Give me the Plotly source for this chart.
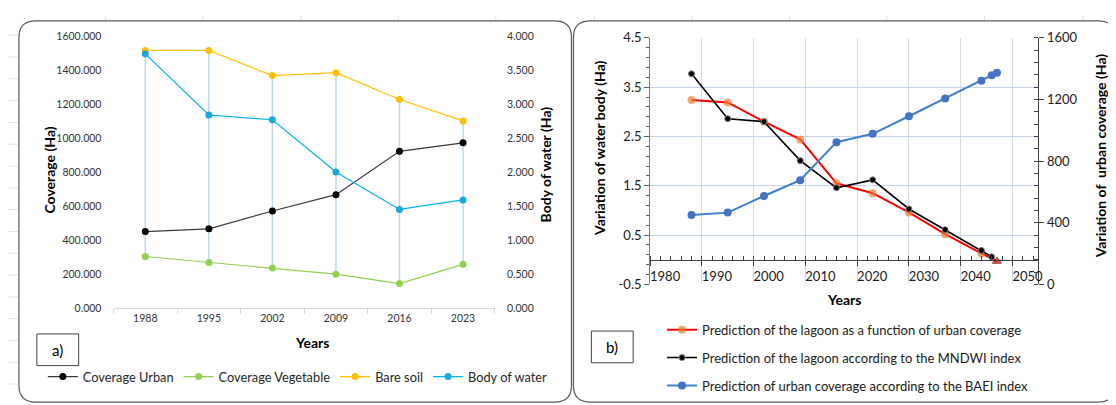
import plotly.graph_objects as go

W, H = 1116, 405

# ---------------- Panel a data ----------------
years_a = ["1988", "1995", "2002", "2009", "2016", "2023"]
coverage_urban = [450, 466, 571, 667, 922, 972]
coverage_vegetable = [303, 268, 236, 199, 144, 257]
bare_soil = [1516, 1516, 1368, 1385, 1227, 1101]
body_of_water = [3.74, 2.84, 2.77, 2.00, 1.45, 1.59]

# ---------------- Panel b data ----------------
years_lagoon_urban = [1988, 1995, 2002, 2009, 2016, 2023, 2030, 2037, 2044, 2047]
lagoon_urban = [3.24, 3.19, 2.80, 2.44, 1.55, 1.35, 0.96, 0.52, 0.13, -0.03]
years_mndwi = [1988, 1995, 2002, 2009, 2016, 2023, 2030, 2037, 2044, 2046]
lagoon_mndwi = [3.77, 2.86, 2.80, 2.01, 1.46, 1.62, 1.03, 0.61, 0.19, 0.06]
years_baei = [1988, 1995, 2002, 2009, 2016, 2023, 2030, 2037, 2044, 2046, 2047]
urban_baei = [450, 466, 574, 676, 923, 977, 1091, 1207, 1322, 1357, 1374]

left_b_ticks = [-0.5, 0.5, 1.5, 2.5, 3.5, 4.5]
left_b_labels = ["-0.5", "0.5", "1.5", "2.5", "3.5", "4.5"]

FONT = "Lato, 'Open Sans', sans-serif"


def fx(p):
    return p / W


def fy(p):
    return 1 - p / H


fig = go.Figure()

# high-low lines (panel a) computed from primary-axis series
hl_x, hl_y = [], []
for i, yr in enumerate(years_a):
    vals = [coverage_urban[i], coverage_vegetable[i], bare_soil[i]]
    hl_x += [yr, yr, None]
    hl_y += [max(vals), min(vals), None]
fig.add_trace(go.Scatter(x=hl_x, y=hl_y, mode="lines", line=dict(color="#BDD7EE", width=1.5),
                         showlegend=False, hoverinfo="skip", xaxis="x", yaxis="y"))

fig.add_trace(go.Scatter(x=years_a, y=coverage_urban, name="Coverage Urban", mode="lines+markers",
                         line=dict(color="#3A3A3A", width=1.2), marker=dict(color="#000000", size=7),
                         xaxis="x", yaxis="y", legend="legend"))
fig.add_trace(go.Scatter(x=years_a, y=coverage_vegetable, name="Coverage Vegetable", mode="lines+markers",
                         line=dict(color="#92D050", width=1.2), marker=dict(color="#92D050", size=7),
                         xaxis="x", yaxis="y", legend="legend"))
fig.add_trace(go.Scatter(x=years_a, y=bare_soil, name="Bare soil", mode="lines+markers",
                         line=dict(color="#FFC000", width=1.2), marker=dict(color="#FFC000", size=7),
                         xaxis="x", yaxis="y", legend="legend"))
fig.add_trace(go.Scatter(x=years_a, y=body_of_water, name="Body of water", mode="lines+markers",
                         line=dict(color="#00B0F0", width=1.2), marker=dict(color="#1AA7DE", size=7),
                         xaxis="x", yaxis="y2", legend="legend"))

# Panel b traces
n_lu = len(years_lagoon_urban)
fig.add_trace(go.Scatter(x=years_lagoon_urban, y=lagoon_urban,
                         name="Prediction of the lagoon as a function of urban coverage",
                         mode="lines+markers", line=dict(color="#FF0000", width=2),
                         marker=dict(color=["#ED7D31"] * (n_lu - 1) + ["#FF0000"],
                                     symbol=["circle"] * (n_lu - 1) + ["triangle-up"],
                                     size=[8] * (n_lu - 1) + [8],
                                     line=dict(color=["rgba(0,0,0,0)"] * (n_lu - 1) + ["#5a0000"], width=1)),
                         xaxis="x2", yaxis="y3", legend="legend2", legendgroup="g1"))
fig.add_trace(go.Scatter(x=years_mndwi, y=lagoon_mndwi,
                         name="Prediction of the lagoon according to the MNDWI index",
                         mode="lines+markers", line=dict(color="#000000", width=1.6),
                         marker=dict(color="#000000", size=6, line=dict(color="#7F7F7F", width=1)),
                         xaxis="x2", yaxis="y3", legend="legend2", legendgroup="g2"))
fig.add_trace(go.Scatter(x=years_baei, y=urban_baei,
                         name="Prediction of urban coverage according to the BAEI index",
                         mode="lines+markers", line=dict(color="#3F7FCB", width=2),
                         marker=dict(color="#4472C4", size=8),
                         xaxis="x2", yaxis="y4", legend="legend2", legendgroup="g3"))

tickfont_a = dict(family=FONT, size=10.5, color="#333333")
tickfont_b = dict(family=FONT, size=13, color="#1a1a1a")

fig.update_layout(
    width=W, height=H,
    margin=dict(l=0, r=0, t=0, b=0),
    paper_bgcolor="white", plot_bgcolor="rgba(0,0,0,0)",
    font=dict(family=FONT),
    xaxis=dict(domain=[fx(106), fx(489)], anchor="y", type="category", range=[-0.5, 5.5],
               showline=True, linecolor="#D9D9D9", linewidth=1, tickson="boundaries",
               ticks="outside", ticklen=5, tickcolor="#D9D9D9", showgrid=False, zeroline=False,
               tickfont=tickfont_a),
    yaxis=dict(domain=[fy(304), fy(21)], anchor="x", range=[0, 1600], dtick=200,
               tickformat=".3f", showgrid=False, zeroline=False, showline=False,
               ticks="outside", ticklen=9, tickcolor="rgba(0,0,0,0)", tickfont=tickfont_a),
    yaxis2=dict(overlaying="y", side="right", anchor="x", range=[0, 4], dtick=0.5,
                tickformat=".3f", showgrid=False, zeroline=False, showline=False,
                ticks="outside", ticklen=9, tickcolor="rgba(0,0,0,0)", tickfont=tickfont_a),
    xaxis2=dict(domain=[fx(645), fx(1035)], anchor="free", position=fy(253.8), range=[1980, 2055],
                tick0=1980, dtick=10, showline=True, linecolor="#404040", linewidth=1,
                ticks="outside", ticklen=5, tickcolor="#404040", ticklabelshift=15,
                showgrid=True, gridcolor="#D9D9D9", gridwidth=1, zeroline=False,
                tickfont=tickfont_b,
                minor=dict(dtick=2, tick0=1980, ticks="inside", ticklen=4, tickcolor="#404040", showgrid=False)),
    yaxis3=dict(domain=[fy(279.5), fy(22.7)], anchor="x2", range=[-0.5001, 4.5001],
                tickmode="array", tickvals=left_b_ticks, ticktext=left_b_labels,
                showline=True, linecolor="#7F7F7F", linewidth=1,
                ticks="outside", ticklen=5, tickcolor="#595959",
                showgrid=True, gridcolor="#C5D4EE", gridwidth=1.2, zeroline=False,
                tickfont=tickfont_b,
                minor=dict(tickmode="linear", dtick=0.2, tick0=-0.5, ticks="outside", ticklen=3,
                           tickcolor="#595959", showgrid=False)),
    yaxis4=dict(overlaying="y3", side="right", anchor="x2", range=[0, 1600], dtick=400,
                showline=True, linecolor="#404040", linewidth=1,
                ticks="outside", ticklen=5, tickcolor="#404040",
                showgrid=False, zeroline=False, tickfont=tickfont_b,
                minor=dict(dtick=80, ticks="inside", ticklen=4, tickcolor="#404040", showgrid=False)),
    legend=dict(orientation="h", x=fx(35), y=fy(360), xanchor="left", yanchor="top",
                font=dict(family=FONT, size=12.8, color="#262626"), itemwidth=30,
                bgcolor="rgba(0,0,0,0)"),
    legend2=dict(orientation="v", x=fx(657), y=fy(311), xanchor="left", yanchor="top",
                 font=dict(family=FONT, size=13, color="#1a1a1a"), itemwidth=30,
                 tracegroupgap=8, bgcolor="rgba(0,0,0,0)"),
    showlegend=True,
)


def rrect(x0, y0, x1, y1, r):
    def P(x, y):
        return f"{fx(x):.5f},{fy(y):.5f}"
    path = (f"M {P(x0 + r, y0)} L {P(x1 - r, y0)} Q {P(x1, y0)} {P(x1, y0 + r)} "
            f"L {P(x1, y1 - r)} Q {P(x1, y1)} {P(x1 - r, y1)} "
            f"L {P(x0 + r, y1)} Q {P(x0, y1)} {P(x0, y1 - r)} "
            f"L {P(x0, y0 + r)} Q {P(x0, y0)} {P(x0 + r, y0)} Z")
    return dict(type="path", xref="paper", yref="paper", path=path,
                line=dict(color="#595959", width=1.2), layer="below")


shapes = []
# faint spreadsheet cell lines behind the chart boxes
for xv in [98, 196, 294, 392, 490, 589, 687, 785, 883, 981, 1080]:
    shapes.append(dict(type="line", xref="paper", yref="paper", x0=fx(xv), x1=fx(xv),
                       y0=fy(6), y1=1, line=dict(color="#E3E3E3", width=1), layer="below"))
yv = 20.0
while yv < 400:
    shapes.append(dict(type="line", xref="paper", yref="paper", x0=0, x1=fx(11),
                       y0=fy(yv), y1=fy(yv), line=dict(color="#E3E3E3", width=1), layer="below"))
    shapes.append(dict(type="line", xref="paper", yref="paper", x0=fx(1112), x1=1,
                       y0=fy(yv), y1=fy(yv), line=dict(color="#E3E3E3", width=1), layer="below"))
    yv += 22.7
shapes += [rrect(11, 5, 566, 402, 17), rrect(568, 5, 1112, 402, 17)]
for (x0, y0, x1, y1) in [(29, 331, 71, 364), (586, 328, 628, 361)]:
    shapes.append(dict(type="rect", xref="paper", yref="paper", x0=fx(x0), x1=fx(x1),
                       y0=fy(y1), y1=fy(y0), line=dict(color="#404040", width=1)))
fig.update_layout(shapes=shapes)

ann = []


def A(text, x, y, size, angle=0, bold=True, color="#000000"):
    ann.append(dict(text=f"<b>{text}</b>" if bold else text, x=fx(x), y=fy(y), xref="paper", yref="paper",
                    showarrow=False, textangle=angle, xanchor="center", yanchor="middle",
                    font=dict(family=FONT, size=size, color=color)))


A("Coverage (Ha)", 42, 160, 14, -90)
A("Body of water (Ha)", 540, 155, 14, -90)
A("Years", 305, 340, 14)
A("a)", 50, 348, 15, bold=False)
A("Variation of water body (Ha)", 594, 138, 14, -90)
A("Variation of  urban coverage (Ha)", 1097, 146, 14, -90)
A("Years", 840, 295, 14)
A("b)", 607, 345, 15, bold=False)
fig.update_layout(annotations=ann)

fig.write_html("out.html")
